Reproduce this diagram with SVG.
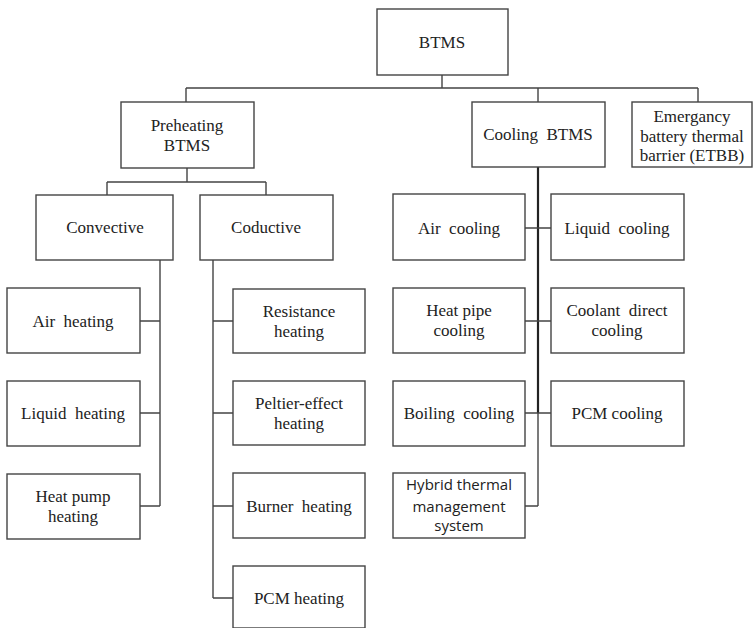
<svg xmlns="http://www.w3.org/2000/svg" width="754" height="628" viewBox="0 0 754 628">
<style>
.box{fill:#fff;stroke:#444;stroke-width:1.4}
.t{font-family:'Liberation Serif','Times New Roman',Times,serif;font-size:17px;fill:#222;text-anchor:middle}
.s{font-family:'Open Sans','Liberation Sans',sans-serif;font-size:15px;fill:#222;text-anchor:middle}
.ln{fill:none;stroke:#444;stroke-width:1.4}
.thick{fill:none;stroke:#222;stroke-width:2.2}
</style>
<rect width="754" height="628" fill="#fff"/>
<g id="connectors">
<path class="ln" d="M442 75V88M186 88H698M186 88V102M538 88V102M698 88V102"/>
<path class="ln" d="M187 168V182M107 182H266M107 182V195M266 182V195"/>
<path class="ln" d="M160 260V506M140 321H160M140 413H160M140 506H160"/>
<path class="ln" d="M213 260V598M213 321H233M213 413H233M213 506H233M213 598H233"/>
<path class="thick" d="M538 167V413"/>
<path class="ln" d="M538 413V506M525 506H538M525 228H551M525 321H551M525 413H551"/>
</g>
<g id="btms"><rect class="box" x="377" y="9" width="131" height="66"/><text class="t" font-family="Liberation Serif, serif" x="442" y="48">BTMS</text></g>
<g id="preheating"><rect class="box" x="121" y="102" width="133" height="66"/><text class="t" x="187" y="131">Preheating</text><text class="t" x="187" y="151">BTMS</text></g>
<g id="cooling"><rect class="box" x="472" y="102" width="133" height="65"/><text class="t" x="538" y="140" xml:space="preserve">Cooling  BTMS</text></g>
<g id="etbb"><rect class="box" x="632" y="102" width="120" height="65"/><text class="t" x="692" y="122">Emergancy</text><text class="t" x="692" y="142">battery thermal</text><text class="t" x="692" y="161">barrier (ETBB)</text></g>
<g id="convective"><rect class="box" x="36" y="195" width="137" height="65"/><text class="t" x="105" y="233">Convective</text></g>
<g id="coductive"><rect class="box" x="200" y="195" width="133" height="65"/><text class="t" x="266" y="233">Coductive</text></g>
<g id="air-heating"><rect class="box" x="7" y="288" width="133" height="65"/><text class="t" x="73" y="327" xml:space="preserve">Air  heating</text></g>
<g id="liquid-heating"><rect class="box" x="7" y="381" width="133" height="65"/><text class="t" x="73" y="419" xml:space="preserve">Liquid  heating</text></g>
<g id="heat-pump-heating"><rect class="box" x="7" y="474" width="133" height="65"/><text class="t" x="73" y="502">Heat pump</text><text class="t" x="73" y="522">heating</text></g>
<g id="resistance-heating"><rect class="box" x="233" y="289" width="132" height="64"/><text class="t" x="299" y="317">Resistance</text><text class="t" x="299" y="337">heating</text></g>
<g id="peltier-heating"><rect class="box" x="233" y="381" width="132" height="64"/><text class="t" x="299" y="409">Peltier-effect</text><text class="t" x="299" y="429">heating</text></g>
<g id="burner-heating"><rect class="box" x="233" y="473" width="132" height="65"/><text class="t" x="299" y="512" xml:space="preserve">Burner  heating</text></g>
<g id="pcm-heating"><rect class="box" x="233" y="566" width="132" height="62"/><text class="t" x="299" y="604">PCM heating</text></g>
<g id="air-cooling"><rect class="box" x="393" y="194" width="132" height="66"/><text class="t" x="459" y="234" xml:space="preserve">Air  cooling</text></g>
<g id="liquid-cooling"><rect class="box" x="551" y="194" width="133" height="66"/><text class="t" x="617" y="234" xml:space="preserve">Liquid  cooling</text></g>
<g id="heat-pipe-cooling"><rect class="box" x="393" y="288" width="132" height="65"/><text class="t" x="459" y="316">Heat pipe</text><text class="t" x="459" y="336">cooling</text></g>
<g id="coolant-direct-cooling"><rect class="box" x="551" y="288" width="133" height="65"/><text class="t" x="617" y="316" xml:space="preserve">Coolant  direct</text><text class="t" x="617" y="336">cooling</text></g>
<g id="boiling-cooling"><rect class="box" x="393" y="381" width="132" height="65"/><text class="t" x="459" y="419" xml:space="preserve">Boiling  cooling</text></g>
<g id="pcm-cooling"><rect class="box" x="551" y="381" width="133" height="65"/><text class="t" x="617" y="419">PCM cooling</text></g>
<g id="hybrid"><rect class="box" x="393" y="473" width="132" height="65"/><text class="s" x="459" y="490">Hybrid thermal</text><text class="s" x="459" y="512">management</text><text class="s" x="459" y="531">system</text></g>
</svg>
